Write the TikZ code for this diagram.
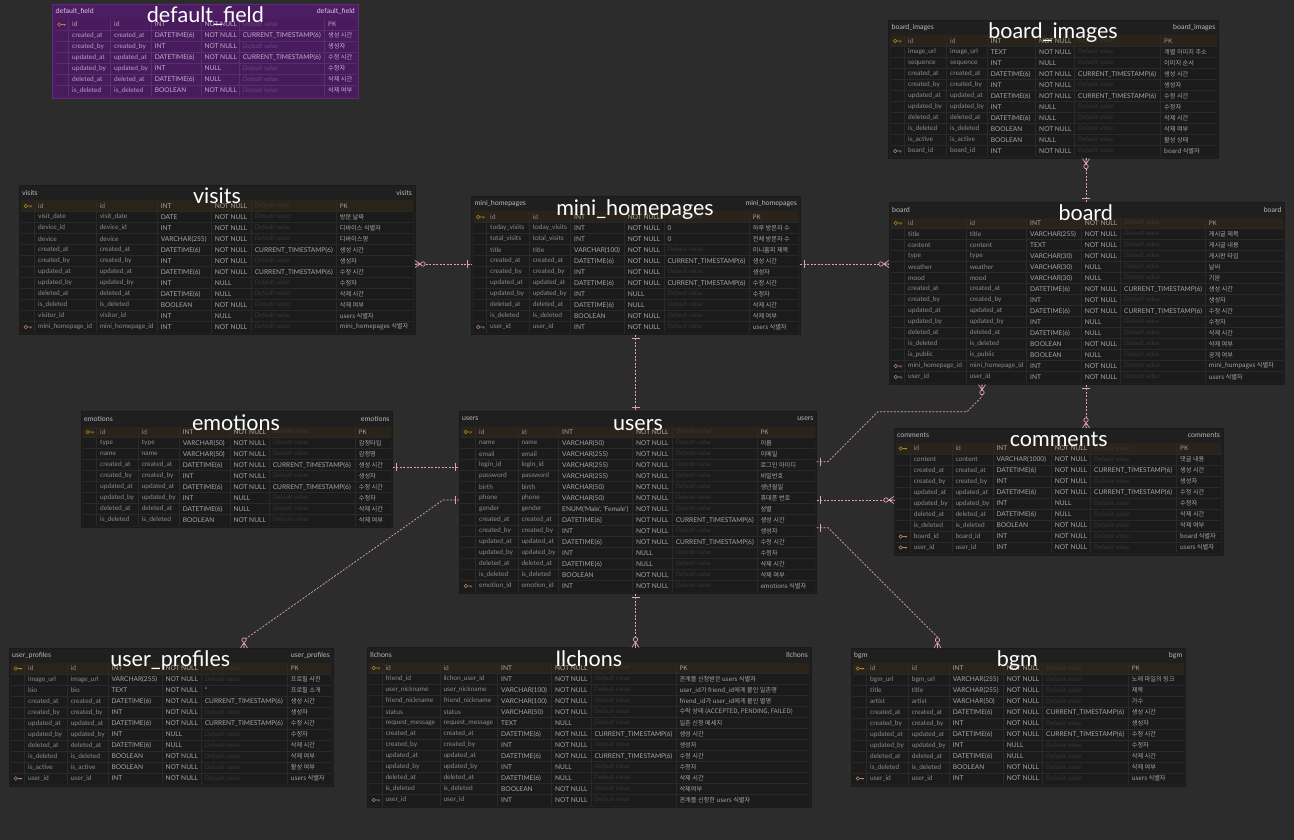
\documentclass[tikz,border=0pt]{standalone}
\usepackage{fontspec}
\setmainfont{Lato}
\newfontfamily\lato{Lato}
\newfontfamily\cjk{Noto Sans CJK KR}
\usetikzlibrary{calc}
\definecolor{bgc}{HTML}{2C2C2C}
\definecolor{relc}{HTML}{E2A2B2}
\definecolor{ttlc}{HTML}{FFFFFF}
\newcommand\darktheme{%
 \definecolor{tfill}{HTML}{1F1F1F}%
 \definecolor{tline}{HTML}{1A1A1A}\definecolor{cellc}{HTML}{1B1B1B}%
 \definecolor{gridc}{HTML}{292929}\definecolor{pkrow}{HTML}{2A2319}%
 \definecolor{txt}{HTML}{A6A6A6}\definecolor{txtd}{HTML}{8C8C8C}\definecolor{hdr}{HTML}{BBBBBB}%
 \definecolor{dflt}{HTML}{363636}\definecolor{pkkey}{HTML}{A8892C}\definecolor{fkkey}{HTML}{B5866A}}
\newcommand\purpletheme{%
 \definecolor{tfill}{HTML}{4D1D63}\definecolor{tline}{HTML}{5E2B75}%
 \definecolor{cellc}{HTML}{481B5C}\definecolor{gridc}{HTML}{5A2C70}%
 \definecolor{pkrow}{HTML}{4A1B5C}\definecolor{txt}{HTML}{C4AFD2}\definecolor{txtd}{HTML}{B8A2C6}%
 \definecolor{hdr}{HTML}{D8C8E2}\definecolor{dflt}{HTML}{684680}%
 \definecolor{pkkey}{HTML}{C08040}\definecolor{fkkey}{HTML}{C08040}}
\darktheme
\tikzset{
 tbox/.style={draw=tline, fill=tfill, line width=0.5pt, inner sep=0pt, outer sep=0pt, rectangle},
 cell/.style={anchor=west, inner sep=0pt, text=txt, font=\lato\fontsize{6.6}{7}\selectfont},
 ncell/.style={cell, text=txtd},
 dcell/.style={cell, text=dflt, font=\lato\itshape\fontsize{6.4}{7}\selectfont},
 ccell/.style={cell, font=\cjk\fontsize{6.2}{7}\selectfont},
 hdrtxt/.style={inner sep=0pt, text=hdr, font=\lato\fontsize{7}{8}\selectfont},
 ttl/.style={inner sep=0pt, text=ttlc, font=\lato\fontsize{21.5}{24}\selectfont},
 rel/.style={draw=relc, line width=0.7pt, dash pattern=on 2pt off 1.5pt},
 relsolid/.style={draw=relc, line width=0.7pt},
 gridl/.style={draw=gridc, line width=0.6pt},
}
\newcount\Ri
\def\dashmark{-}
\newcommand\Tcols[6]{\xdef\Ca{#1}\xdef\Cb{#2}\xdef\Cc{#3}\xdef\Cd{#4}\xdef\Ce{#5}\xdef\Cf{#6}}
\newcommand\Tbl[5]{%
 \xdef\Tn{#1}\xdef\Tx{#2}\xdef\Ty{#3}\xdef\Tr{#4}\xdef\Tnr{#5}\global\Ri=0
 \pgfmathsetmacro\Tw{#4-#2}\pgfmathsetmacro\Th{17+11*#5}%
 \node[tbox, minimum width=\Tw pt, minimum height=\Th pt, anchor=north west] (#1) at (#2,#3) {};
 \pgfmathsetmacro\yb{#3+15+11*#5}%
 \fill[cellc] (#2+2,#3+15) rectangle (#4-2,\yb);
 \node[hdrtxt, anchor=west] (#1-hl) at (#2+3,#3+7.5) {#1};
 \node[hdrtxt, anchor=east] (#1-hr) at (#4-3,#3+7.5) {#1};
}
\newcommand\keyic[2]{\draw[#2, line width=0.55pt] (\Tx+6.8,#1) circle (1.7) (\Tx+8.5,#1) -- (\Tx+13,#1) (\Tx+11.8,#1) -- (\Tx+11.8,#1+1.6);}
\newcommand\R[7]{%
 \global\advance\Ri by 1
 \edef\rn{\the\Ri}%
 \pgfmathsetmacro\yc{\Ty+20.5+11*(\rn-1)}%
 \ifx p#1 \fill[pkrow] (\Tx+2,\yc-5.5) rectangle (\Tr-2,\yc+5.5); \fi
 \ifnum\Ri<\Tnr \draw[gridl] (\Tx+2,\yc+5.5) -- (\Tr-2,\yc+5.5); \fi
 \ifx p#1 \keyic{\yc}{pkkey}\fi
 \ifx f#1 \keyic{\yc}{fkkey}\fi
 \node[ncell] (\Tn-r\rn-a) at (\Ca+3.3,\yc) {#2};
 \node[ncell] (\Tn-r\rn-b) at (\Cb+3.3,\yc) {#3};
 \node[cell] (\Tn-r\rn-c) at (\Cc+3.3,\yc) {#4};
 \node[cell] (\Tn-r\rn-d) at (\Cd+3.3,\yc) {#5};
 \def\tmp{#6}%
 \ifx\tmp\dashmark \node[dcell] (\Tn-r\rn-e) at (\Ce+3.3,\yc) {Default value};
 \else \node[cell] (\Tn-r\rn-e) at (\Ce+3.3,\yc) {#6}; \fi
 \node[ccell] (\Tn-r\rn-f) at (\Cf+3.3,\yc) {#7};
}
\newcommand\Tgrid{\pgfmathsetmacro\yb{\Ty+15+11*\Tnr}\foreach \c in {\Ca,\Cb,\Cc,\Cd,\Ce,\Cf}{\draw[gridl] (\c,\Ty+15) -- (\c,\yb);}}
\newcommand\Ttl[1]{\node[ttl, anchor=base] (\Tn-title) at (#1,\Ty+18.5) {\Tn};}
\newcommand\mkone[2]{\begin{scope}[shift={(#1)},rotate=#2]\draw[relsolid] (4,-4) -- (4,4);\end{scope}}
\newcommand\mkmany[2]{\begin{scope}[shift={(#1)},rotate=#2]\draw[relsolid] (0,-3.5) -- (5.5,0) -- (0,3.5) (0,0) -- (5.5,0);\draw[relsolid,fill=bgc] (8,0) circle (2.2);\end{scope}}
\begin{document}
\catcode`\_=12
\newcommand\Audit[1]{%
\R{n}{created_at}{created_at}{DATETIME(6)}{NOT NULL}{CURRENT_TIMESTAMP(6)}{생성 시간}%
\R{n}{created_by}{created_by}{INT}{NOT NULL}{-}{생성자}%
\R{n}{updated_at}{updated_at}{DATETIME(6)}{NOT NULL}{CURRENT_TIMESTAMP(6)}{수정 시간}%
\R{n}{updated_by}{updated_by}{INT}{NULL}{-}{수정자}%
\R{n}{deleted_at}{deleted_at}{DATETIME(6)}{NULL}{-}{삭제 시간}%
\R{n}{is_deleted}{is_deleted}{BOOLEAN}{NOT NULL}{-}{#1}}
\begin{tikzpicture}[x=1pt,y=-1pt]
\useasboundingbox (0,0) rectangle (1294,840);
\fill[bgc] (0,0) rectangle (1294,840);
% default_field
\purpletheme
\Tcols{68.7}{110.7}{151.3}{201}{239.3}{324.7}
\Tbl{default_field}{52.5}{4}{358}{7}
\R{p}{id}{id}{INT}{NOT NULL}{-}{PK}
\Audit{삭제 여부}
\Tgrid
\Ttl{205.3}
\darktheme
% board_images
\Tcols{904.7}{946.7}{987.3}{1035.7}{1074.7}{1160.7}
\Tbl{board_images}{888.5}{20.5}{1218.5}{11}
\R{p}{id}{id}{INT}{NOT NULL}{-}{PK}
\R{n}{image_url}{image_url}{TEXT}{NOT NULL}{-}{개별 이미지 주소}
\R{n}{sequence}{sequence}{INT}{NULL}{-}{이미지 순서}
\Audit{삭제 여부}
\R{n}{is_active}{is_active}{BOOLEAN}{NULL}{-}{활성 상태}
\R{f}{board_id}{board_id}{INT}{NOT NULL}{-}{board 식별자}
\Tgrid
\Ttl{1053}
% visits
\Tcols{34.7}{96.3}{157.3}{211.3}{251.3}{336.3}
\Tbl{visits}{19}{185.5}{415}{12}
\R{p}{id}{id}{INT}{NOT NULL}{-}{PK}
\R{n}{visit_date}{visit_date}{DATE}{NOT NULL}{-}{방문 날짜}
\R{n}{device_id}{device_id}{INT}{NOT NULL}{-}{디바이스 식별자}
\R{n}{device}{device}{VARCHAR(255)}{NOT NULL}{-}{디바이스명}
\Audit{삭제 여부}
\R{n}{visitor_id}{visitor_id}{INT}{NULL}{-}{users 식별자}
\R{f}{mini_homepage_id}{mini_homepage_id}{INT}{NOT NULL}{-}{mini_homepages 식별자}
\Tgrid
\Ttl{217}
% mini_homepages
\Tcols{486.7}{529.3}{570.7}{624.3}{664}{749.3}
\Tbl{mini_homepages}{471.5}{196.5}{800}{11}
\R{p}{id}{id}{INT}{NOT NULL}{-}{PK}
\R{n}{today_visits}{today_visits}{INT}{NOT NULL}{0}{하루 방문자 수}
\R{n}{total_visits}{total_visits}{INT}{NOT NULL}{0}{전체 방문자 수}
\R{n}{title}{title}{VARCHAR(100)}{NOT NULL}{-}{미니홈피 제목}
\Audit{삭제 여부}
\R{f}{user_id}{user_id}{INT}{NOT NULL}{-}{users 식별자}
\Tgrid
\Ttl{635}
% board
\Tcols{904.7}{966.3}{1026.7}{1081.3}{1120.7}{1205.3}
\Tbl{board}{889}{202.5}{1284.7}{15}
\R{p}{id}{id}{INT}{NOT NULL}{-}{PK}
\R{n}{title}{title}{VARCHAR(255)}{NOT NULL}{-}{게시글 제목}
\R{n}{content}{content}{TEXT}{NOT NULL}{-}{게시글 내용}
\R{n}{type}{type}{VARCHAR(30)}{NOT NULL}{-}{게시판 타입}
\R{n}{weather}{weather}{VARCHAR(30)}{NULL}{-}{날씨}
\R{n}{mood}{mood}{VARCHAR(30)}{NULL}{-}{기분}
\Audit{삭제 여부}
\R{n}{is_public}{is_public}{BOOLEAN}{NULL}{-}{공개 여부}
\R{f}{mini_homepage_id}{mini_homepage_id}{INT}{NOT NULL}{-}{mini_humpages 식별자}
\R{f}{user_id}{user_id}{INT}{NOT NULL}{-}{users 식별자}
\Tgrid
\Ttl{1085.7}
% emotions
\Tcols{96.7}{138.3}{179.3}{230}{269.3}{355.3}
\Tbl{emotions}{81}{411.5}{392.7}{9}
\R{p}{id}{id}{INT}{NOT NULL}{-}{PK}
\R{n}{type}{type}{VARCHAR(50)}{NOT NULL}{-}{감정타입}
\R{n}{name}{name}{VARCHAR(50)}{NOT NULL}{-}{감정명}
\Audit{삭제 여부}
\Tgrid
\Ttl{236}
% users
\Tcols{475.7}{518}{558.7}{632.7}{672.3}{757}
\Tbl{users}{459}{411.5}{816.7}{15}
\R{p}{id}{id}{INT}{NOT NULL}{-}{PK}
\R{n}{name}{name}{VARCHAR(50)}{NOT NULL}{-}{이름}
\R{n}{email}{email}{VARCHAR(255)}{NOT NULL}{-}{이메일}
\R{n}{login_id}{login_id}{VARCHAR(255)}{NOT NULL}{-}{로그인 아이디}
\R{n}{password}{password}{VARCHAR(255)}{NOT NULL}{-}{비밀번호}
\R{n}{birth}{birth}{VARCHAR(50)}{NOT NULL}{-}{생년월일}
\R{n}{phone}{phone}{VARCHAR(50)}{NOT NULL}{-}{휴대폰 번호}
\R{n}{gender}{gender}{ENUM('Male', 'Female')}{NOT NULL}{-}{성별}
\Audit{삭제 여부}
\R{f}{emotion_id}{emotion_id}{INT}{NOT NULL}{-}{emotions 식별자}
\Tgrid
\Ttl{638}
% comments
\Tcols{910.3}{952}{993}{1051.3}{1090.7}{1176.7}
\Tbl{comments}{894}{428}{1223}{10}
\R{p}{id}{id}{INT}{NOT NULL}{-}{PK}
\R{n}{content}{content}{VARCHAR(1000)}{NOT NULL}{-}{댓글 내용}
\Audit{삭제 여부}
\R{f}{board_id}{board_id}{INT}{NOT NULL}{-}{board 식별자}
\R{f}{user_id}{user_id}{INT}{NOT NULL}{-}{users 식별자}
\Tgrid
\Ttl{1058.7}
% user_profiles
\Tcols{24.7}{67.3}{108}{162}{201.3}{287.3}
\Tbl{user_profiles}{9}{648}{333}{11}
\R{p}{id}{id}{INT}{NOT NULL}{-}{PK}
\R{n}{image_url}{image_url}{VARCHAR(255)}{NOT NULL}{-}{프로필 사진}
\R{n}{bio}{bio}{TEXT}{NOT NULL}{{'}{'}}{프로필 소개}
\Audit{삭제 여부}
\R{n}{is_active}{is_active}{BOOLEAN}{NOT NULL}{-}{활성 여부}
\R{f}{user_id}{user_id}{INT}{NOT NULL}{-}{users 식별자}
\Tgrid
\Ttl{170.3}
% Ilchons
\Tcols{382}{440}{497.7}{551.7}{591}{676}
\Tbl{Ilchons}{367}{647.5}{811}{13}
\R{p}{id}{id}{INT}{NOT NULL}{-}{PK}
\R{n}{friend_id}{ilchon_user_id}{INT}{NOT NULL}{-}{관계를 신청받은 users 식별자}
\R{n}{user_nickname}{user_nickname}{VARCHAR(100)}{NOT NULL}{-}{user_id가 friend_id에게 붙인 일촌명}
\R{n}{friend_nickname}{friend_nickname}{VARCHAR(100)}{NOT NULL}{-}{friend_id가 user_id에게 붙인 별명}
\R{n}{status}{status}{VARCHAR(50)}{NOT NULL}{-}{수락 상태 (ACCEPTED, PENDING, FAILED)}
\R{n}{request_message}{request_message}{TEXT}{NULL}{-}{일촌 신청 메세지}
\Audit{삭제여부}
\R{f}{user_id}{user_id}{INT}{NOT NULL}{-}{관계를 신청한 users 식별자}
\Tgrid
\Ttl{588.7}
% bgm
\Tcols{866.7}{908.3}{949.3}{1003.3}{1042.7}{1128.3}
\Tbl{bgm}{851}{648}{1185.5}{11}
\R{p}{id}{id}{INT}{NOT NULL}{-}{PK}
\R{n}{bgm_url}{bgm_url}{VARCHAR(255)}{NOT NULL}{-}{노래 파일의 링크}
\R{n}{title}{title}{VARCHAR(255)}{NOT NULL}{-}{제목}
\R{n}{artist}{artist}{VARCHAR(50)}{NOT NULL}{-}{가수}
\Audit{삭제 여부}
\R{f}{user_id}{user_id}{INT}{NOT NULL}{-}{users 식별자}
\Tgrid
\Ttl{1017.3}
% connectors
\coordinate (u2p) at (443,500);
\coordinate (p2u) at (244,640);
\coordinate (u2b1) at (828,461.7);
\coordinate (u2b2) at (878,411.7);
\coordinate (u2b3) at (967,411.7);
\coordinate (u2b4) at (982,396.7);
\coordinate (u2g1) at (828,527.7);
\coordinate (u2g2) at (937.5,637.2);
\draw[rel] (board_images.south -| 1086,0) -- (board.north -| 1086,0);
\draw[rel] (visits.east |- 0,264) -- (mini_homepages.west |- 0,264);
\draw[rel] (mini_homepages.east |- 0,264) -- (board.west |- 0,264);
\draw[rel] (mini_homepages.south -| 635.5,0) -- (users.north -| 635.5,0);
\draw[rel] (emotions.east |- 0,467.3) -- (users.west |- 0,467.3);
\draw[rel] (users.west |- 0,500) -- (u2p) -- (p2u) -- (user_profiles.north -| 244,0);
\draw[rel] (users.east |- 0,461.7) -- (u2b1) -- (u2b2) -- (u2b3) -- (u2b4) -- (board.south -| 982,0);
\draw[rel] (users.east |- 0,500) -- (comments.west |- 0,500);
\draw[rel] (users.east |- 0,527.7) -- (u2g1) -- (u2g2) -- (bgm.north -| 937.5,0);
\draw[rel] (users.south -| 635.5,0) -- (Ilchons.north -| 635.5,0);
\draw[rel] (board.south -| 1086,0) -- (comments.north -| 1086,0);
\mkmany{board_images.south -| 1086,0}{-90}
\mkone{board.north -| 1086,0}{90}
\mkmany{visits.east |- 0,264}{0}
\mkone{mini_homepages.west |- 0,264}{180}
\mkone{mini_homepages.east |- 0,264}{0}
\mkmany{board.west |- 0,264}{180}
\mkone{mini_homepages.south -| 635.5,0}{-90}
\mkone{users.north -| 635.5,0}{90}
\mkone{emotions.east |- 0,467.3}{0}
\mkone{users.west |- 0,467.3}{180}
\mkone{users.west |- 0,500}{180}
\mkmany{user_profiles.north -| 244,0}{90}
\mkone{users.east |- 0,461.7}{0}
\mkmany{board.south -| 982,0}{-90}
\mkone{users.east |- 0,500}{0}
\mkmany{comments.west |- 0,500}{180}
\mkone{users.east |- 0,527.7}{0}
\mkmany{bgm.north -| 937.5,0}{90}
\mkone{users.south -| 635.5,0}{-90}
\mkmany{Ilchons.north -| 635.5,0}{90}
\mkone{board.south -| 1086,0}{-90}
\mkmany{comments.north -| 1086,0}{90}
\end{tikzpicture}
\end{document}
